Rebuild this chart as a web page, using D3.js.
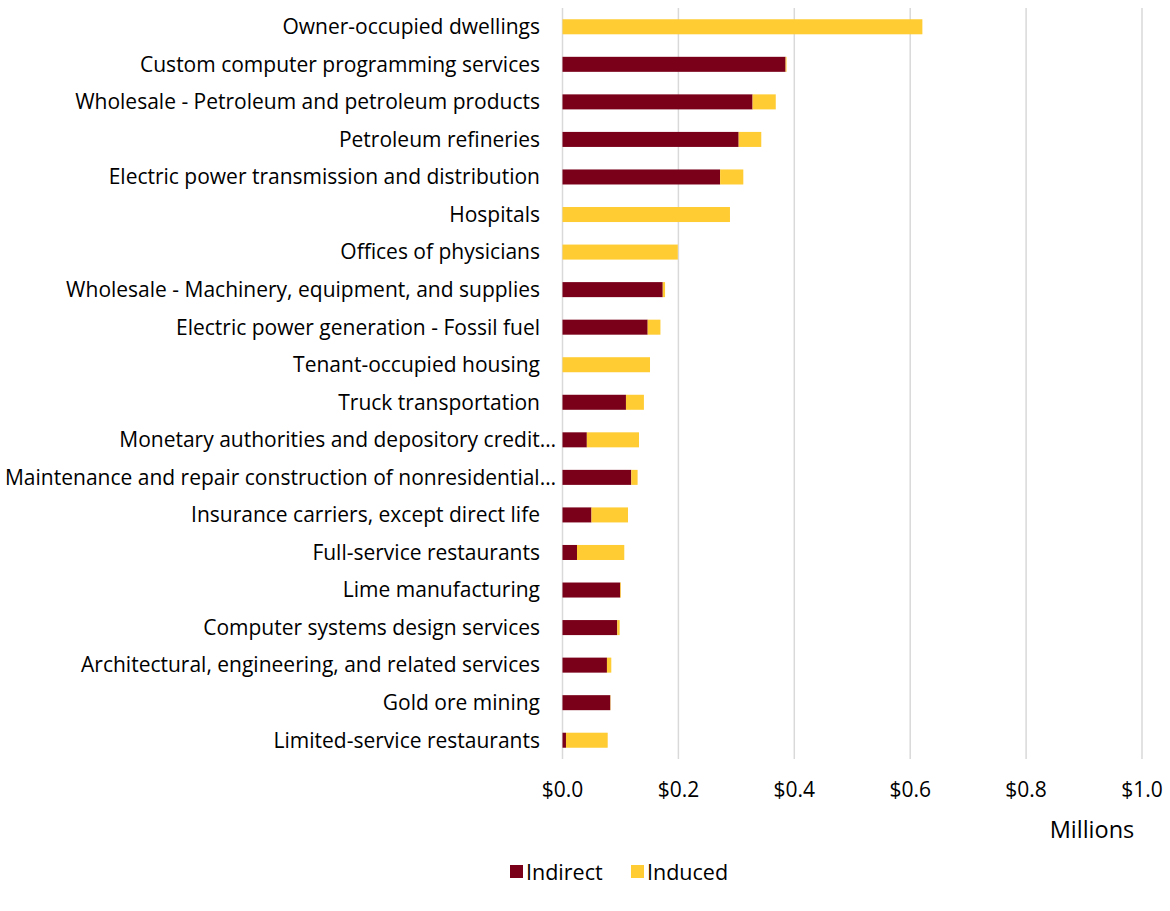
<!DOCTYPE html>
<html><head><meta charset="utf-8">
<script src="https://cdn.jsdelivr.net/npm/d3@7"></script>
<style>body{margin:0;background:#fff}svg{display:block}text{font-family:"Open Sans",sans-serif;fill:#000}</style>
</head><body>
<script>
const categories = [
 "Owner-occupied dwellings",
 "Custom computer programming services",
 "Wholesale - Petroleum and petroleum products",
 "Petroleum refineries",
 "Electric power transmission and distribution",
 "Hospitals",
 "Offices of physicians",
 "Wholesale - Machinery, equipment, and supplies",
 "Electric power generation - Fossil fuel",
 "Tenant-occupied housing",
 "Truck transportation",
 "Monetary authorities and depository credit…",
 "Maintenance and repair construction of nonresidential…",
 "Insurance carriers, except direct life",
 "Full-service restaurants",
 "Lime manufacturing",
 "Computer systems design services",
 "Architectural, engineering, and related services",
 "Gold ore mining",
 "Limited-service restaurants"
];
const indirect = [0, 0.385, 0.328, 0.304, 0.272, 0, 0, 0.173, 0.147, 0, 0.1095, 0.042, 0.1187, 0.050, 0.025, 0.0997, 0.0945, 0.0767, 0.0825, 0.006];
const induced  = [0.621, 0.0016, 0.040, 0.039, 0.040, 0.289, 0.199, 0.004, 0.022, 0.151, 0.031, 0.090, 0.0109, 0.063, 0.0816, 0.0012, 0.0041, 0.0075, 0.0005, 0.072];
const seriesNames = ["Indirect", "Induced"];
const colors = ["#7A0019", "#FFCC33"];
const tickValues = [0, 0.2, 0.4, 0.6, 0.8, 1.0];

const W = 1170, H = 911;
const svg = d3.select("body").append("svg").attr("width", W).attr("height", H);
const x = d3.scaleLinear().domain([0, 1]).range([562.5, 1142]);
const y = d3.scaleBand().domain(categories).range([8, 759]).paddingInner(0.6).paddingOuter(0.3);

svg.append("g").selectAll("line").data(tickValues).join("line")
  .attr("x1", d => x(d)).attr("x2", d => x(d)).attr("y1", 8).attr("y2", 759)
  .attr("stroke", "#D9D9D9").attr("stroke-width", 1.5);

const rows = categories.map((c, i) => ({cat: c, Indirect: indirect[i], Induced: induced[i]}));
const stacked = d3.stack().keys(seriesNames)(rows);
svg.append("g").selectAll("g").data(stacked).join("g")
  .attr("fill", (d, i) => colors[i])
  .selectAll("rect").data(d => d).join("rect")
  .attr("x", d => x(d[0])).attr("width", d => Math.max(0, x(d[1]) - x(d[0])))
  .attr("y", d => y(d.data.cat)).attr("height", y.bandwidth());

svg.append("g").selectAll("text").data(categories).join("text")
  .attr("x", d => d.endsWith("…") ? 556 : 540)
  .attr("y", d => y(d) + y.bandwidth() / 2)
  .attr("dy", "0.35em").attr("text-anchor", "end")
  .style("font-size", "21px").text(d => d);

const fmt = d => "$" + d3.format(".1f")(d);
svg.append("g").selectAll("text").data(tickValues).join("text")
  .attr("x", d => x(d)).attr("y", 797).attr("text-anchor", "middle")
  .style("font-size", "21px").text(fmt);
svg.append("text").attr("x", 1092).attr("y", 838).attr("text-anchor", "middle")
  .style("font-size", "23.5px").text("Millions");

const lg = svg.append("g");
const lx = [510, 631];
seriesNames.forEach((s, i) => {
  lg.append("rect").attr("x", lx[i]).attr("y", 865).attr("width", 13).attr("height", 13).attr("fill", colors[i]);
  lg.append("text").attr("x", lx[i] + 16).attr("y", 872).attr("dy", "0.35em").style("font-size", "21.5px").text(s);
});
</script>
</body></html>
